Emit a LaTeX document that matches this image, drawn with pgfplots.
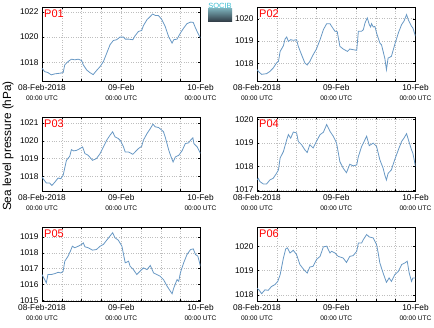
\documentclass[border=0pt]{standalone}
\usepackage{fontspec}
\setmainfont{Liberation Sans}
\usepackage{pgfplots}
\pgfplotsset{compat=1.18}
\definecolor{linec}{RGB}{104,152,196}
\definecolor{gridc}{RGB}{190,190,190}
\newcommand{\utc}{{\fontsize{6.6}{7}\selectfont 00:00 UTC}}
\pgfplotsset{
 panel/.style={
  scale only axis, width=158.5pt, height=74pt, anchor=south west,
  xmin=0, xmax=48, xtick={0,24,48},
  xticklabels={{08-Feb-2018\\\utc},{09-Feb\\\utc},{10-Feb\\\utc}},
  minor xtick={6,12,18,30,36,42},
  xticklabel style={align=center, font=\fontsize{8.3}{9.5}\selectfont},
  yticklabel style={font=\fontsize{8.3}{9.5}\selectfont},
  grid=both,
  major grid style={gridc, dotted, line width=0.6pt},
  minor grid style={gridc, dotted, line width=0.6pt},
  tick align=inside, major tick length=2pt, minor tick length=2pt,
  tick style={black, line width=0.5pt},
  axis line style={black, line width=0.6pt},
  /pgf/number format/assume math mode=true,
  /pgf/number format/1000 sep={},
 },
 ser/.style={linec, line width=0.8pt, no marks},
}
\tikzset{lab/.style={anchor=north west, text=red, font=\fontsize{11}{12}\selectfont, inner sep=0pt, xshift=2pt, yshift=-3pt}}
\begin{document}
\begin{tikzpicture}
\useasboundingbox (0,0) rectangle (434pt,327pt);
% P01
\begin{axis}[panel, at={(42pt,246pt)}, ymin=1016.5, ymax=1022.4, ytick={1018,1020,1022}]
\addplot[ser] coordinates {(0.0,1017.52)(0.8,1017.25)(1.8,1017.17)(2.8,1016.99)(3.9,1017.07)(5.4,1017.12)(6.4,1017.17)(6.9,1017.79)(7.9,1018.05)(8.9,1018.24)(9.9,1018.19)(11.0,1018.24)(12.0,1018.13)(12.5,1017.79)(13.5,1017.39)(14.5,1017.17)(15.5,1017.01)(16.5,1017.33)(17.6,1017.65)(18.6,1018.05)(19.6,1018.72)(20.6,1019.39)(21.6,1019.73)(22.6,1019.79)(23.6,1020.00)(24.7,1020.00)(25.2,1019.84)(26.2,1019.84)(27.5,1019.79)(28.2,1020.11)(29.2,1020.45)(30.2,1020.53)(30.7,1020.91)(31.8,1021.39)(32.8,1021.65)(33.5,1021.84)(34.3,1021.73)(35.3,1021.71)(36.3,1021.39)(37.3,1020.85)(38.4,1020.00)(39.4,1019.52)(39.9,1019.79)(40.9,1019.84)(41.9,1020.32)(42.9,1020.72)(43.9,1021.07)(45.0,1021.20)(45.8,1021.17)(46.5,1020.72)(47.2,1020.32)(48.0,1019.92)};
\node[lab] at (rel axis cs:0,1) {P01};
\end{axis}
% P02
\begin{axis}[panel, at={(257pt,246pt)}, ymin=1017.2, ymax=1020.53, ytick={1018,1019,1020}]
\addplot[ser] coordinates {(0,1017.71)(0.7,1017.59)(1.4,1017.50)(2.9,1017.53)(3.9,1017.63)(4.9,1017.78)(5.9,1018.01)(6.5,1018.08)(7.0,1018.53)(8.0,1018.79)(8.5,1019.09)(9.0,1019.18)(9.5,1018.98)(10.2,1019.06)(11.0,1019.03)(12.0,1019.06)(12.5,1018.76)(13.5,1018.38)(14.5,1018.01)(15.2,1017.92)(16.0,1018.08)(17.0,1018.38)(18.0,1018.64)(19.1,1019.06)(20.1,1019.51)(21.1,1019.78)(22.1,1019.78)(22.6,1019.66)(23.6,1019.44)(24.3,1019.42)(25.1,1018.76)(26.1,1018.64)(27.4,1018.53)(28.1,1018.64)(29.1,1018.61)(30.2,1018.58)(30.7,1019.44)(31.7,1019.44)(32.2,1019.51)(32.7,1019.81)(33.4,1020.04)(34.0,1019.74)(34.4,1019.63)(34.7,1019.78)(35.2,1019.63)(35.7,1019.66)(36.2,1019.36)(37.2,1018.91)(37.7,1018.83)(38.7,1018.23)(39.2,1017.71)(39.7,1018.23)(40.7,1018.31)(41.7,1018.83)(42.8,1019.36)(43.8,1019.74)(44.5,1019.89)(45.3,1020.19)(45.8,1019.96)(46.8,1019.66)(47.2,1019.59)(48.0,1019.21)};
\node[lab] at (rel axis cs:0,1) {P02};
\end{axis}
% P03
\begin{axis}[panel, at={(42pt,136pt)}, ymin=1017.19, ymax=1021.34, ytick={1018,1019,1020,1021}]
\addplot[ser] coordinates {(0.0,1017.97)(0.5,1017.84)(1.3,1017.64)(2.3,1017.64)(3.0,1017.50)(3.9,1017.69)(4.9,1017.92)(5.7,1017.88)(6.4,1018.07)(7.4,1018.91)(8.4,1019.14)(8.9,1019.51)(9.6,1019.44)(10.5,1019.47)(11.5,1019.57)(12.3,1019.66)(13.0,1019.29)(14.0,1019.19)(15.3,1018.91)(16.5,1019.01)(17.6,1019.29)(18.6,1019.66)(19.6,1020.04)(20.6,1020.32)(21.4,1020.51)(22.1,1020.23)(23.1,1020.13)(23.8,1020.00)(24.7,1019.66)(25.2,1019.38)(26.2,1019.38)(27.5,1019.25)(28.2,1019.38)(29.2,1019.57)(30.2,1019.70)(30.7,1020.04)(31.8,1020.41)(32.8,1020.69)(33.6,1020.94)(34.3,1020.79)(35.3,1020.75)(36.3,1020.60)(36.8,1020.51)(37.3,1020.23)(38.4,1019.47)(39.1,1019.10)(39.7,1018.82)(40.4,1019.10)(41.4,1019.19)(42.4,1019.44)(43.4,1019.85)(44.4,1019.89)(45.0,1020.04)(45.7,1020.17)(46.0,1019.85)(47.0,1019.66)(48.0,1019.29)};
\node[lab] at (rel axis cs:0,1) {P03};
\end{axis}
% P04
\begin{axis}[panel, at={(257pt,136pt)}, ymin=1016.96, ymax=1020.11, ytick={1017,1018,1019,1020}]
\addplot[ser] coordinates {(0,1017.43)(0.4,1017.50)(0.9,1017.36)(1.9,1017.26)(2.9,1017.26)(3.9,1017.43)(4.9,1017.50)(5.9,1017.71)(6.5,1017.86)(7.0,1018.36)(8.0,1018.64)(9.0,1019.14)(9.5,1019.36)(10.2,1019.21)(11.0,1019.47)(12.0,1019.43)(12.5,1019.07)(13.5,1018.93)(14.5,1018.71)(15.2,1018.60)(16.0,1018.93)(17.0,1018.79)(18.0,1019.07)(19.1,1019.36)(20.1,1019.46)(21.1,1019.79)(22.1,1019.50)(23.1,1019.29)(24.1,1019.00)(25.1,1018.21)(26.1,1017.93)(27.1,1017.74)(28.1,1018.10)(29.1,1018.03)(30.2,1018.07)(30.7,1018.43)(31.7,1018.86)(32.2,1019.00)(33.2,1019.29)(34.0,1018.89)(35.2,1019.00)(36.2,1018.86)(37.2,1018.29)(38.2,1017.93)(38.7,1017.64)(39.2,1017.43)(39.7,1017.71)(40.7,1017.86)(41.7,1018.29)(42.8,1018.71)(43.8,1019.07)(44.5,1019.21)(45.3,1019.40)(46.0,1019.07)(46.8,1018.71)(47.2,1018.57)(48.0,1018.00)};
\node[lab] at (rel axis cs:0,1) {P04};
\end{axis}
% P05
\begin{axis}[panel, at={(42pt,26pt)}, ymin=1014.96, ymax=1019.63, ytick={1015,1016,1017,1018,1019}]
\addplot[ser] coordinates {(0.0,1016.63)(0.8,1016.31)(1.3,1016.10)(1.8,1016.63)(2.8,1016.63)(3.9,1016.69)(4.9,1016.77)(5.7,1016.73)(6.4,1016.84)(6.9,1017.47)(7.9,1017.79)(8.6,1018.11)(9.2,1018.42)(9.9,1018.32)(11.0,1018.42)(12.0,1018.53)(12.5,1018.63)(13.0,1018.38)(14.0,1018.32)(15.3,1018.17)(16.5,1018.21)(17.6,1018.42)(18.6,1018.53)(19.6,1018.80)(20.6,1019.06)(21.4,1019.27)(22.1,1018.95)(23.1,1018.80)(24.2,1018.42)(24.7,1017.89)(25.2,1017.37)(26.2,1017.47)(26.7,1017.15)(27.7,1016.94)(28.7,1016.63)(29.7,1016.84)(30.7,1017.05)(31.8,1016.94)(32.8,1017.20)(33.8,1016.73)(34.8,1016.63)(35.8,1016.52)(36.8,1016.31)(37.9,1015.89)(38.9,1015.57)(39.4,1015.42)(39.9,1015.78)(40.9,1016.31)(41.4,1016.20)(41.9,1016.73)(42.9,1017.37)(43.9,1017.89)(45.0,1018.21)(45.8,1018.25)(46.5,1017.89)(47.2,1017.79)(48.0,1017.15)};
\node[lab] at (rel axis cs:0,1) {P05};
\end{axis}
% P06
\begin{axis}[panel, at={(257pt,26pt)}, ymin=1017.75, ymax=1020.8, ytick={1018,1019,1020}]
\addplot[ser] coordinates {(0,1018.28)(0.7,1018.19)(1.4,1018.05)(2.4,1018.21)(3.4,1018.19)(4.4,1018.35)(5.4,1018.42)(6.3,1018.56)(7.0,1018.83)(8.0,1019.52)(8.7,1019.90)(9.2,1019.94)(10.0,1019.73)(11.0,1019.84)(12.0,1019.66)(13.0,1019.25)(14.2,1019.04)(15.2,1018.90)(16.0,1019.15)(17.0,1019.18)(18.0,1019.46)(19.1,1019.59)(20.1,1019.98)(21.1,1020.01)(22.1,1019.73)(22.6,1019.80)(23.6,1019.73)(24.6,1019.59)(26.1,1019.52)(27.1,1019.34)(28.1,1019.59)(29.1,1019.62)(30.2,1019.80)(30.7,1020.14)(31.7,1020.14)(32.2,1020.28)(33.2,1020.49)(34.0,1020.39)(35.2,1020.35)(36.2,1020.08)(36.7,1019.73)(37.2,1019.32)(38.2,1018.90)(39.2,1018.52)(40.0,1018.70)(40.7,1018.56)(41.7,1018.83)(42.8,1018.97)(43.8,1019.25)(44.8,1019.32)(45.5,1019.39)(46.1,1018.90)(46.8,1018.56)(47.2,1018.70)(48.0,1018.70)};
\node[lab] at (rel axis cs:0,1) {P06};
\end{axis}
% y label
\node[rotate=90, font=\fontsize{11.8}{13}\selectfont] at (8pt,181pt) {Sea level pressure (hPa)};
% logo
\shade[top color={rgb,255:red,120;green,170;blue,180}, bottom color={rgb,255:red,45;green,55;blue,65}] (208pt,305pt) rectangle (232pt,318pt);
\node[font=\fontsize{7.5}{8}\selectfont, text={rgb,255:red,60;green,190;blue,210}, inner sep=0pt] at (220pt,321.5pt) {SOCIB};
\end{tikzpicture}
\end{document}
